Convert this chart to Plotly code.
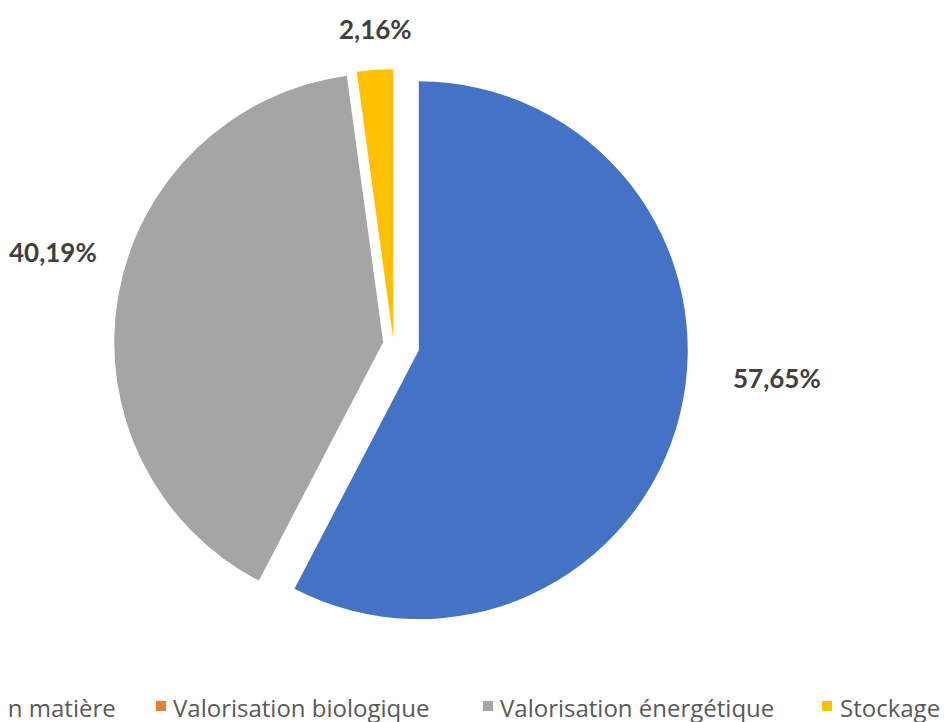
import plotly.graph_objects as go

categories = ["Valorisation matière", "Valorisation biologique", "Valorisation énergétique", "Stockage"]
shares = [57.65, 0.0, 40.19, 2.16]
colors = ["#4472C4", "#ED7D31", "#A5A5A5", "#FFC000"]
pulls = [0.097, 0.0, 0.039, 0.022]

W, H = 949, 722
OFF = 8  # page body margin of the html page


def px_x(px):
    return (px - OFF) / W


def px_y(py):
    return 1 - (py - OFF) / H


# pie centre (page pixels) and half-size of the pie box
cx, cy, half = 393.5, 344.0, 295.0

fig = go.Figure(go.Pie(
    labels=categories,
    values=shares,
    sort=False,
    direction="clockwise",
    rotation=0,
    pull=pulls,
    marker=dict(colors=colors, line=dict(width=0)),
    textinfo="none",
    hoverinfo="skip",
    showlegend=False,
    domain=dict(x=[px_x(cx - half), px_x(cx + half)],
                y=[px_y(cy + half), px_y(cy - half)]),
))


def fmt(v):
    return f"{v:.2f}".replace(".", ",") + "%"


label_pos = {0: (776.5, 377.5), 2: (53, 252), 3: (375, 29)}
annotations = []
for i, (px, py) in label_pos.items():
    annotations.append(dict(
        x=px_x(px), y=px_y(py), xref="paper", yref="paper",
        text=f"<b>{fmt(shares[i])}</b>", showarrow=False,
        xanchor="center", yanchor="middle",
        font=dict(family="Lato, Open Sans, sans-serif", size=26, color="#404040"),
    ))

legend_font = dict(family="Open Sans, sans-serif", size=24, color="#595959")
legend_sq = [None, 156, 483, 822]
legend_tx = [118, 171, 498, 838]
shapes = []
leg_y = 707
for i, name in enumerate(categories):
    if i == 0:
        annotations.append(dict(
            x=px_x(legend_tx[0]), y=px_y(leg_y), xref="paper", yref="paper",
            text=name, showarrow=False, xanchor="right", yanchor="middle",
            font=legend_font,
        ))
        continue
    sq = legend_sq[i]
    shapes.append(dict(
        type="rect", xref="paper", yref="paper",
        x0=px_x(sq), x1=px_x(sq + 10), y0=px_y(leg_y + 4), y1=px_y(leg_y - 6),
        fillcolor=colors[i], line=dict(width=0),
    ))
    annotations.append(dict(
        x=px_x(legend_tx[i]), y=px_y(leg_y), xref="paper", yref="paper",
        text=name, showarrow=False, xanchor="left", yanchor="middle",
        font=legend_font,
    ))

fig.update_layout(
    width=W, height=H,
    margin=dict(l=0, r=0, t=0, b=0),
    paper_bgcolor="white", plot_bgcolor="white",
    annotations=annotations, shapes=shapes,
)

fig.write_html("out.html")
